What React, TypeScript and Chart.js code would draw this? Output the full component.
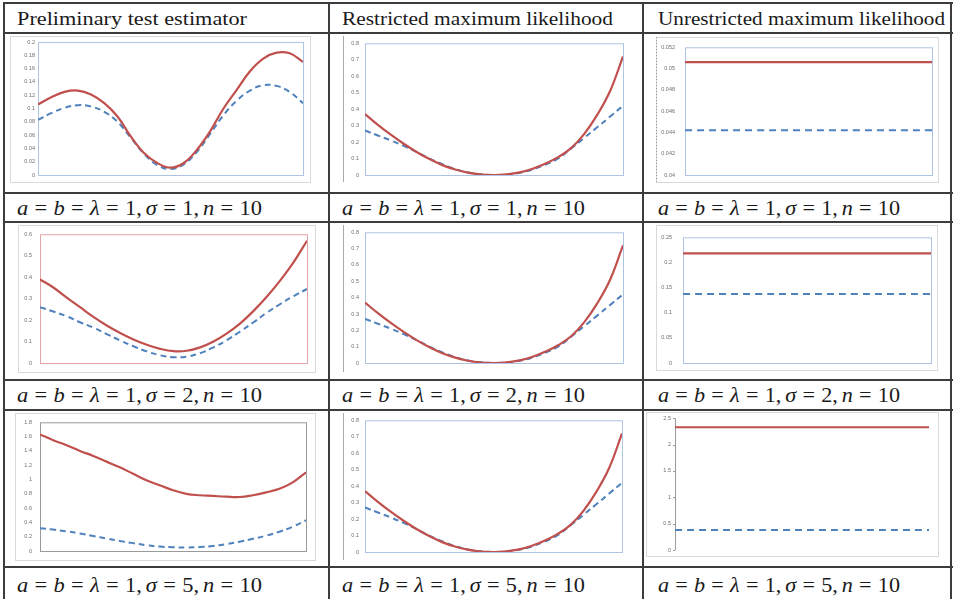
import React, { useEffect, useLayoutEffect, useRef } from 'react';
import { Chart, registerables } from 'chart.js';
Chart.register(...registerables);

// ---------------- DATA ----------------
const HEADERS = ['Preliminary test estimator', 'Restricted maximum likelihood', 'Unrestricted maximum likelihood'];
const SIGMAS = ['1', '2', '5'];

const X21 = [0, 1, 2, 3, 4, 5, 6, 7, 8, 9, 10, 11, 12, 13, 14, 15, 16, 17, 18, 19, 20];
const X_FLAT = [0, 20];

// Preliminary test estimator, sigma = 1
const PTE_S1_RED = [0.106, 0.117, 0.125, 0.127, 0.121, 0.108, 0.088, 0.058, 0.033, 0.018, 0.011, 0.018, 0.038, 0.066, 0.1, 0.128, 0.156, 0.175, 0.184, 0.183, 0.17];
const PTE_S1_BLUE = [0.083, 0.093, 0.101, 0.105, 0.103, 0.095, 0.08, 0.056, 0.032, 0.015, 0.009, 0.016, 0.035, 0.062, 0.09, 0.112, 0.127, 0.135, 0.134, 0.125, 0.108];
// Preliminary test estimator, sigma = 2
const PTE_S2_RED = [0.39, 0.352, 0.305, 0.26, 0.215, 0.175, 0.14, 0.11, 0.085, 0.066, 0.055, 0.057, 0.073, 0.1, 0.138, 0.185, 0.243, 0.31, 0.385, 0.47, 0.57];
const PTE_S2_BLUE = [0.26, 0.24, 0.218, 0.19, 0.165, 0.135, 0.105, 0.078, 0.054, 0.036, 0.027, 0.03, 0.046, 0.073, 0.107, 0.147, 0.19, 0.235, 0.275, 0.312, 0.345];
// Preliminary test estimator, sigma = 5
const PTE_S5_RED = [1.63, 1.55, 1.48, 1.4, 1.33, 1.25, 1.17, 1.08, 0.99, 0.92, 0.85, 0.8, 0.78, 0.77, 0.76, 0.755, 0.78, 0.82, 0.87, 0.96, 1.1];
const PTE_S5_BLUE = [0.32, 0.3, 0.275, 0.245, 0.21, 0.175, 0.14, 0.11, 0.08, 0.062, 0.052, 0.05, 0.055, 0.07, 0.095, 0.13, 0.17, 0.215, 0.27, 0.34, 0.43];
// Restricted maximum likelihood (same in every row)
const RML_RED = [0.37, 0.305, 0.245, 0.19, 0.14, 0.097, 0.06, 0.033, 0.014, 0.003, 0.0, 0.004, 0.016, 0.038, 0.07, 0.11, 0.165, 0.25, 0.365, 0.51, 0.72];
const RML_BLUE = [0.27, 0.24, 0.21, 0.177, 0.14, 0.1, 0.065, 0.036, 0.015, 0.004, 0.0, 0.003, 0.014, 0.034, 0.064, 0.102, 0.162, 0.226, 0.29, 0.355, 0.42];
// Unrestricted maximum likelihood (constant)
const UML_S1_RED = [0.0506, 0.0506];
const UML_S1_BLUE = [0.0442, 0.0442];
const UML_S2_RED = [0.218, 0.218];
const UML_S2_BLUE = [0.137, 0.137];
const UML_S5_RED = [2.33, 2.33];
const UML_S5_BLUE = [0.38, 0.38];

// Y ticks
const T_PTE_S1 = [0, 0.02, 0.04, 0.06, 0.08, 0.1, 0.12, 0.14, 0.16, 0.18, 0.2];
const L_PTE_S1 = ['0', '0.02', '0.04', '0.06', '0.08', '0.1', '0.12', '0.14', '0.16', '0.18', '0.2'];
const T_RML = [0, 0.1, 0.2, 0.3, 0.4, 0.5, 0.6, 0.7, 0.8];
const L_RML = ['0', '0.1', '0.2', '0.3', '0.4', '0.5', '0.6', '0.7', '0.8'];
const T_UML_S1 = [0.04, 0.042, 0.044, 0.046, 0.048, 0.05, 0.052];
const L_UML_S1 = ['0.04', '0.042', '0.044', '0.046', '0.048', '0.05', '0.052'];
const T_PTE_S2 = [0, 0.1, 0.2, 0.3, 0.4, 0.5, 0.6];
const L_PTE_S2 = ['0', '0.1', '0.2', '0.3', '0.4', '0.5', '0.6'];
const T_UML_S2 = [0, 0.05, 0.1, 0.15, 0.2, 0.25];
const L_UML_S2 = ['0', '0.05', '0.1', '0.15', '0.2', '0.25'];
const T_PTE_S5 = [0, 0.2, 0.4, 0.6, 0.8, 1, 1.2, 1.4, 1.6, 1.8];
const L_PTE_S5 = ['0', '0.2', '0.4', '0.6', '0.8', '1', '1.2', '1.4', '1.6', '1.8'];
const T_UML_S5 = [0, 0.5, 1, 1.5, 2, 2.5];
const L_UML_S5 = ['0', '0.5', '1', '1.5', '2', '2.5'];

// ---------------- STYLE / LAYOUT ----------------
const RED = '#c0504d';
const BLUE = '#4f81bd';
const LIGHT_BLUE = '#adc5e3';
const FRAME = '#d9d9d9';
const LINE = '#3c3c3c';
const SERIF = '"Liberation Serif", "Times New Roman", serif';

type Box = { l: number; r: number; t: number; b: number };
type PanelSpec = {
  cell: Box;
  plot: Box;
  xs: number[];
  red: number[];
  blue: number[];
  ticks: number[];
  labels: string[];
  pad: number;
  dash: number[];
  plotBorder: string;
  plotBorderLeftOnly?: boolean;
  frame?: Box;
  frameLeft?: { x: number; t: number; b: number; color: string; dotted?: boolean };
};

const COLS = [
  { l: 5, r: 328 },
  { l: 330, r: 642 },
  { l: 644, r: 950 },
];
const ROWS = [
  { t: 34, b: 192 },
  { t: 223, b: 379 },
  { t: 411, b: 566 },
];
const cell = (r: number, c: number): Box => ({ l: COLS[c].l, r: COLS[c].r, t: ROWS[r].t, b: ROWS[r].b });

const PANELS: PanelSpec[] = [
  { cell: cell(0, 0), plot: { l: 38, r: 303, t: 42, b: 175 }, xs: X21, red: PTE_S1_RED, blue: PTE_S1_BLUE, ticks: T_PTE_S1, labels: L_PTE_S1, pad: 3, dash: [6, 4], plotBorder: LIGHT_BLUE, frame: { l: 10, r: 310, t: 36, b: 182 } },
  { cell: cell(0, 1), plot: { l: 365, r: 623, t: 43, b: 175 }, xs: X21, red: RML_RED, blue: RML_BLUE, ticks: T_RML, labels: L_RML, pad: 6, dash: [6, 4], plotBorder: LIGHT_BLUE, frameLeft: { x: 343, t: 36, b: 182, color: '#aaaaaa' } },
  { cell: cell(0, 2), plot: { l: 685, r: 932, t: 42, b: 175 }, xs: X_FLAT, red: UML_S1_RED, blue: UML_S1_BLUE, ticks: T_UML_S1, labels: L_UML_S1, pad: 10, dash: [7, 5], plotBorder: LIGHT_BLUE, frame: { l: 656, r: 938, t: 37, b: 182 }, frameLeft: { x: 656, t: 37, b: 182, color: '#999999', dotted: true } },
  { cell: cell(1, 0), plot: { l: 40, r: 307, t: 232, b: 363 }, xs: X21, red: PTE_S2_RED, blue: PTE_S2_BLUE, ticks: T_PTE_S2, labels: L_PTE_S2, pad: 8, dash: [6, 4], plotBorder: '#e3a5a5', frame: { l: 18, r: 315, t: 225, b: 372 } },
  { cell: cell(1, 1), plot: { l: 365, r: 623, t: 232, b: 363 }, xs: X21, red: RML_RED, blue: RML_BLUE, ticks: T_RML, labels: L_RML, pad: 6, dash: [6, 4], plotBorder: LIGHT_BLUE, frameLeft: { x: 343, t: 225, b: 372, color: '#aaaaaa' } },
  { cell: cell(1, 2), plot: { l: 683, r: 931, t: 232, b: 363 }, xs: X_FLAT, red: UML_S2_RED, blue: UML_S2_BLUE, ticks: T_UML_S2, labels: L_UML_S2, pad: 11, dash: [7, 5], plotBorder: LIGHT_BLUE, frame: { l: 656, r: 937, t: 225, b: 370 } },
  { cell: cell(2, 0), plot: { l: 40, r: 306, t: 420, b: 551 }, xs: X21, red: PTE_S5_RED, blue: PTE_S5_BLUE, ticks: T_PTE_S5, labels: L_PTE_S5, pad: 8, dash: [6, 4], plotBorder: '#9a9a9a', frame: { l: 15, r: 315, t: 413, b: 560 } },
  { cell: cell(2, 1), plot: { l: 365, r: 622, t: 420, b: 552 }, xs: X21, red: RML_RED, blue: RML_BLUE, ticks: T_RML, labels: L_RML, pad: 6, dash: [6, 4], plotBorder: LIGHT_BLUE, frameLeft: { x: 343, t: 413, b: 560, color: '#aaaaaa' } },
  { cell: cell(2, 2), plot: { l: 675, r: 929, t: 418, b: 550 }, xs: X_FLAT, red: UML_S5_RED, blue: UML_S5_BLUE, ticks: T_UML_S5, labels: L_UML_S5, pad: 4, dash: [7, 5], plotBorder: '#9a9a9a', plotBorderLeftOnly: true, frame: { l: 646, r: 938, t: 412, b: 556 } },
];

function Panel({ p }: { p: PanelSpec }) {
  const ref = useRef<HTMLCanvasElement>(null);
  const W = p.cell.r - p.cell.l;
  const H = p.cell.b - p.cell.t;
  useEffect(() => {
    const canvas = ref.current;
    if (!canvas) return;
    const ox = p.cell.l;
    const oy = p.cell.t;
    const deco = {
      id: 'deco',
      beforeDatasetsDraw(chart: any) {
        const ctx = chart.ctx;
        const a = chart.chartArea;
        ctx.save();
        if (p.frame) {
          ctx.strokeStyle = FRAME;
          ctx.lineWidth = 1;
          ctx.strokeRect(p.frame.l - ox + 0.5, p.frame.t - oy + 0.5, p.frame.r - p.frame.l, p.frame.b - p.frame.t);
        }
        if (p.frameLeft) {
          const f = p.frameLeft;
          ctx.strokeStyle = f.color;
          ctx.lineWidth = 1;
          ctx.setLineDash(f.dotted ? [1, 2] : []);
          ctx.beginPath();
          ctx.moveTo(f.x - ox + 0.5, f.t - oy);
          ctx.lineTo(f.x - ox + 0.5, f.b - oy);
          ctx.stroke();
          ctx.setLineDash([]);
        }
        ctx.strokeStyle = p.plotBorder;
        ctx.lineWidth = 1;
        if (p.plotBorderLeftOnly) {
          ctx.beginPath();
          ctx.moveTo(a.left + 0.5, a.top);
          ctx.lineTo(a.left + 0.5, a.bottom);
          ctx.stroke();
          ctx.beginPath();
          for (const v of p.ticks) {
            const y = Math.round(chart.scales.y.getPixelForValue(v)) + 0.5;
            ctx.moveTo(a.left - 2, y);
            ctx.lineTo(a.left, y);
          }
          ctx.stroke();
        } else {
          ctx.strokeRect(a.left + 0.5, a.top + 0.5, a.right - a.left, a.bottom - a.top);
        }
        ctx.restore();
      },
    };
    const chart = new Chart(canvas, {
      type: 'line',
      data: {
        datasets: [
          {
            data: p.xs.map((x, i) => ({ x, y: p.red[i] })),
            borderColor: RED,
            borderWidth: 2.2,
            pointRadius: 0,
            tension: 0.4,
            fill: false,
          },
          {
            data: p.xs.map((x, i) => ({ x, y: p.blue[i] })),
            borderColor: BLUE,
            borderWidth: 2,
            borderDash: p.dash,
            pointRadius: 0,
            tension: 0.4,
            fill: false,
          },
        ],
      },
      options: {
        animation: false,
        responsive: false,
        devicePixelRatio: 1,
        events: [],
        layout: {
          padding: {
            left: 0,
            top: p.plot.t - p.cell.t,
            right: p.cell.r - p.plot.r,
            bottom: p.cell.b - p.plot.b,
          },
        },
        plugins: { legend: { display: false }, tooltip: { enabled: false }, title: { display: false } },
        scales: {
          x: { type: 'linear', min: 0, max: 20, display: false },
          y: {
            type: 'linear',
            min: p.ticks[0],
            max: p.ticks[p.ticks.length - 1],
            afterFit: (s: any) => {
              s.width = p.plot.l - p.cell.l;
            },
            afterBuildTicks: (s: any) => {
              s.ticks = p.ticks.map((v) => ({ value: v }));
            },
            ticks: {
              autoSkip: false,
              padding: p.pad,
              color: '#6e6e6e',
              font: { size: 5.5, family: 'Liberation Sans' },
              callback: (_v: any, i: number) => p.labels[i],
            },
            grid: { display: false, drawTicks: false, tickLength: 0 },
            border: { display: false },
          },
        },
      } as any,
      plugins: [deco],
    });
    return () => chart.destroy();
  }, [p]);
  return (
    <canvas
      ref={ref}
      width={W}
      height={H}
      style={{ position: 'absolute', left: p.cell.l, top: p.cell.t, width: W, height: H }}
    />
  );
}

function FitText({ x, y, width, children, style }: any) {
  const ref = useRef<HTMLDivElement>(null);
  useLayoutEffect(() => {
    const fit = () => {
      const el = ref.current;
      if (!el) return;
      el.style.transform = 'none';
      const w = el.getBoundingClientRect().width;
      if (w > 0) el.style.transform = `scaleX(${width / w})`;
    };
    fit();
    if ((document as any).fonts && (document as any).fonts.ready) (document as any).fonts.ready.then(fit);
  }, [width]);
  return (
    <div
      ref={ref}
      style={{ position: 'absolute', left: x, top: y, whiteSpace: 'nowrap', transformOrigin: '0 0', color: '#1a1a1a', ...style }}
    >
      {children}
    </div>
  );
}

const HEADER_POS = [
  { x: 17, w: 230 },
  { x: 342, w: 271 },
  { x: 658, w: 287 },
];
const CAPTION_POS = [
  { x: 17, w: 245 },
  { x: 342, w: 243 },
  { x: 658, w: 242 },
];
const CAPTION_BASE = [215, 402, 592];

function Caption({ sigma }: { sigma: string }) {
  const eq = <span style={{ margin: '0 0.28em', fontStyle: 'normal' }}>=</span>;
  return (
    <span>
      <i>a</i>{eq}<i>b</i>{eq}<i>λ</i>{eq}1,<span style={{ marginLeft: '0.18em' }} /><i>σ</i>{eq}{sigma},<span style={{ marginLeft: '0.18em' }} /><i>n</i>{eq}10
    </span>
  );
}

export default function App() {
  const hLines = [3, 33, 193, 222, 380, 410, 567];
  const vLines = [4, 329, 643, 951];
  return (
    <div style={{ position: 'fixed', left: 0, top: 0, width: 953, height: 599, background: '#ffffff', overflow: 'hidden' }}>
      {PANELS.map((p, i) => (
        <Panel key={i} p={p} />
      ))}
      {hLines.map((y, i) => (
        <div key={'h' + i} style={{ position: 'absolute', left: 3, top: y - 1, width: 950, height: 2, background: LINE }} />
      ))}
      {vLines.map((x, i) => (
        <div key={'v' + i} style={{ position: 'absolute', left: x - 1, top: 2, width: 2, height: 597, background: LINE }} />
      ))}
      {HEADERS.map((h, i) => (
        <FitText
          key={'t' + i}
          x={HEADER_POS[i].x}
          y={8.2}
          width={HEADER_POS[i].w}
          style={{ fontFamily: SERIF, fontSize: 18.6, lineHeight: '21px' }}
        >
          {h}
        </FitText>
      ))}
      {SIGMAS.map((s, r) =>
        CAPTION_POS.map((c, k) => (
          <FitText
            key={'c' + r + k}
            x={c.x}
            y={CAPTION_BASE[r] - 19.1}
            width={c.w}
            style={{ fontFamily: SERIF, fontSize: 21, lineHeight: '24px' }}
          >
            <Caption sigma={s} />
          </FitText>
        ))
      )}
    </div>
  );
}
